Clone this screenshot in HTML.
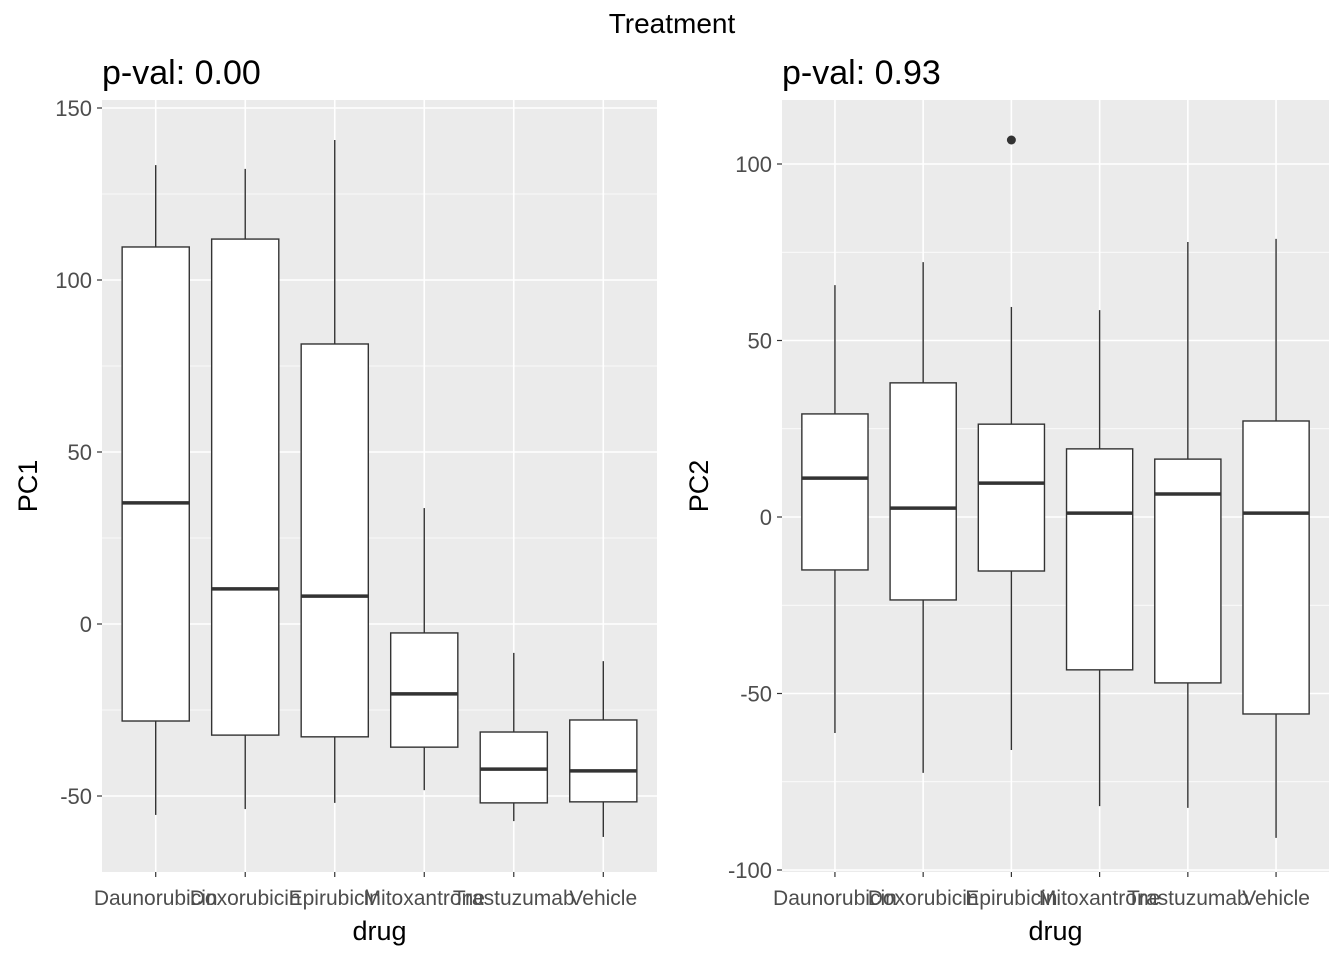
<!DOCTYPE html>
<html><head><meta charset="utf-8"><style>
body{margin:0;background:#fff;font-family:"Liberation Sans",Arial,sans-serif}
svg text{font-family:"Liberation Sans",Arial,sans-serif}
</style></head><body>
<svg id="chart" width="1344" height="960" xmlns="http://www.w3.org/2000/svg">
<text x="672" y="33" font-size="28" text-anchor="middle" fill="#000">Treatment</text>
</svg>
<script>
const categories=["Daunorubicin","Doxorubicin","Epirubicin","Mitoxantrone","Trastuzumab","Vehicle"];
const pc1Low=[-55.5,-53.8,-52,-48.3,-57.3,-61.9];
const pc1Q1=[-28.2,-32.3,-32.8,-35.8,-52,-51.7];
const pc1Med=[35.2,10.2,8.1,-20.3,-42.2,-42.7];
const pc1Q3=[109.6,111.9,81.4,-2.6,-31.4,-27.9];
const pc1High=[133.4,132.3,140.7,33.7,-8.4,-10.8];
const pc1Outliers=[];
const pc1Ticks=[-50,0,50,100,150];
const pc2Low=[-61.2,-72.5,-66,-81.9,-82.4,-90.9];
const pc2Q1=[-15,-23.5,-15.3,-43.3,-47,-55.8];
const pc2Med=[11,2.5,9.6,1.1,6.5,1.1];
const pc2Q3=[29.2,38,26.3,19.3,16.4,27.2];
const pc2High=[65.7,72.2,59.5,58.6,77.9,78.8];
const pc2Outliers=[[2,106.8]];
const pc2Ticks=[-100,-50,0,50,100];

const svg=document.getElementById('chart');
const NS="http://www.w3.org/2000/svg";
function mk(tag,attrs,parent){const e=document.createElementNS(NS,tag);for(const k in attrs)e.setAttribute(k,attrs[k]);(parent||svg).appendChild(e);return e;}

function panel(cfg){
  const g=mk('g',{});
  
  
  const {x0,x1,y0,y1}=cfg;
  const yScale=v=>cfg.zeroY-v*cfg.pxPerUnit;
  const step=(x1-x0)/(categories.length+0.2);
  const xScale=i=>x0+step*(0.6+i);
  const bg=mk('rect',{x:x0,y:y0,width:x1-x0,height:y1-y0,fill:'#ebebeb'},g);
  
  
  const tk=cfg.ticks;
  for(let i=0;i<tk.length-1;i++){
    const m=(tk[i]+tk[i+1])/2;
    mk('line',{x1:x0,x2:x1,y1:yScale(m),y2:yScale(m),stroke:'#fff','stroke-width':0.8},g);
  }
  const below=tk[0]-(tk[1]-tk[0])/2, above=tk[tk.length-1]+(tk[1]-tk[0])/2;
  [below,above].forEach(m=>{const y=yScale(m);if(y>y0&&y<y1)mk('line',{x1:x0,x2:x1,y1:y,y2:y,stroke:'#fff','stroke-width':0.8},g);});
  tk.forEach(t=>{
    const y=yScale(t);
    mk('line',{x1:x0,x2:x1,y1:y,y2:y,stroke:'#fff','stroke-width':1.6},g);
    mk('line',{x1:x0-5,x2:x0,y1:y,y2:y,stroke:'#333','stroke-width':1.2},g);
    const tl=mk('text',{x:x0-10,y:y+8,'font-size':22,'text-anchor':'end',fill:'#4d4d4d'},g);
    tl.textContent=t;
    
    
  });
  categories.forEach((c,i)=>{
    const x=xScale(i);
    mk('line',{x1:x,x2:x,y1:y0,y2:y1,stroke:'#fff','stroke-width':1.6},g);
    mk('line',{x1:x,x2:x,y1:y1,y2:y1+5,stroke:'#333','stroke-width':1.2},g);
    const tl=mk('text',{x:x,y:y1+33,'font-size':21,'text-anchor':'middle',fill:'#4d4d4d'},g);
    tl.textContent=c;
    
    
  });
  const bw=step*0.75;
  categories.forEach((c,i)=>{
    const x=xScale(i);
    const bg2=mk('g',{},g);
    
    
    mk('line',{x1:x,x2:x,y1:yScale(cfg.high[i]),y2:yScale(cfg.q3[i]),stroke:'#333','stroke-width':1.4},bg2);
    mk('line',{x1:x,x2:x,y1:yScale(cfg.q1[i]),y2:yScale(cfg.low[i]),stroke:'#333','stroke-width':1.4},bg2);
    mk('rect',{x:x-bw/2,y:yScale(cfg.q3[i]),width:bw,height:yScale(cfg.q1[i])-yScale(cfg.q3[i]),fill:'#fff',stroke:'#333','stroke-width':1.4},bg2);
    mk('line',{x1:x-bw/2,x2:x+bw/2,y1:yScale(cfg.med[i]),y2:yScale(cfg.med[i]),stroke:'#333','stroke-width':3.5},bg2);
  });
  cfg.outliers.forEach(o=>{
    const p=mk('circle',{cx:xScale(o[0]),cy:yScale(o[1]),r:4.5,fill:'#333'},g);
    
    
  });
  const st=mk('text',{x:x0,y:84,'font-size':34,fill:'#000'},g);
  st.textContent=cfg.sub;
  
  
  const xt=mk('text',{x:(x0+x1)/2,y:940,'font-size':27,'text-anchor':'middle',fill:'#000'},g);
  xt.textContent='drug';
  
  
  const yt=mk('text',{x:0,y:0,'font-size':27,'text-anchor':'middle',fill:'#000',transform:`translate(${cfg.ytx},${(y0+y1)/2}) rotate(-90)`},g);
  yt.textContent=cfg.ylab;
  
  
}
panel({name:'pc1',x0:102,x1:657,y0:100,y1:872,zeroY:624,pxPerUnit:3.44,ticks:pc1Ticks,low:pc1Low,q1:pc1Q1,med:pc1Med,q3:pc1Q3,high:pc1High,outliers:pc1Outliers,sub:'p-val: 0.00',ylab:'PC1',ytx:37});
panel({name:'pc2',x0:782,x1:1329,y0:100,y1:872,zeroY:517,pxPerUnit:3.53,ticks:pc2Ticks,low:pc2Low,q1:pc2Q1,med:pc2Med,q3:pc2Q3,high:pc2High,outliers:pc2Outliers,sub:'p-val: 0.93',ylab:'PC2',ytx:708});
</script>
</body></html>
